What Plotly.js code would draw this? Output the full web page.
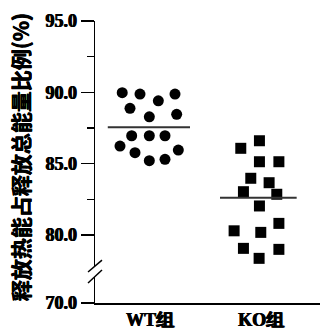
<!DOCTYPE html>
<html><head><meta charset="utf-8">
<script src="https://cdn.plot.ly/plotly-3.0.1.min.js"></script>
<style>html,body{margin:0;padding:0;background:#fff}</style>
</head><body>
<div id="chart" style="width:320px;height:329px"></div>
<script>
// categories and tick labels
var groups = ["WT组", "KO组"];
var yTickVals = [80, 85, 90, 95];
var yTickText = ["80.0", "85.0", "90.0", "95.0"];
var yLowTickVals = [70];
var yLowTickText = ["70.0"];
var yTitle = "释放热能占释放总能量比例(%)";

// WT group values (%) and horizontal jitter
var wtValues = [89.98, 89.88, 89.41, 89.88, 88.88, 88.29, 88.46, 86.96, 86.96, 86.96, 86.24, 85.77, 85.21, 85.31, 85.96];
var wtJitter = [-0.25, -0.09, 0.075, 0.225, -0.18, -0.006, 0.24, -0.165, -0.006, 0.135, -0.27, -0.135, -0.006, 0.135, 0.255];
// KO group values (%) and jitter
var koValues = [86.61, 86.08, 85.14, 85.14, 83.98, 83.67, 83.04, 82.86, 82.04, 80.82, 80.30, 80.19, 79.07, 79.00, 78.37];
var koJitter = [-0.015, -0.183, -0.015, 0.16, -0.093, 0.072, -0.159, 0.141, -0.015, 0.16, -0.243, -0.003, -0.159, 0.16, -0.018];
// group means
var means = [87.55, 82.62];
var meanLeft = [-0.38, -0.37];
var meanRight = [0.36, 0.32];

var bold = function(s){ return '<b>' + s + '</b>'; };
var wtX = wtJitter.map(function(d){ return 0 + d; });
var koX = koJitter.map(function(d){ return 1 + d; });

var traces = [
  {x: wtX, y: wtValues, type: 'scatter', mode: 'markers', xaxis: 'x', yaxis: 'y',
   marker: {symbol: 'circle', size: 11, color: '#000'}, hoverinfo: 'skip'},
  {x: koX, y: koValues, type: 'scatter', mode: 'markers', xaxis: 'x', yaxis: 'y',
   marker: {symbol: 'square', size: 11, color: '#000'}, hoverinfo: 'skip'}
];
means.forEach(function(m, i){
  traces.push({x: [i + meanLeft[i], i + meanRight[i]], y: [m, m], type: 'scatter', mode: 'lines',
    xaxis: 'x', yaxis: 'y', line: {color: '#333', width: 2}, hoverinfo: 'skip'});
});
traces.push({x: [0], y: [null], type: 'scatter', mode: 'markers', xaxis: 'x', yaxis: 'y2', hoverinfo: 'skip'});

var serif = 'Liberation Serif';
var heavy = '0.6px 0 0 #000, -0.3px 0 0 #000';
var tf = {family: serif, size: 18, color: '#000', weight: 'bold', shadow: heavy};
var layout = {
  width: 320, height: 329,
  margin: {l: 95, r: 0, t: 21, b: 26},
  paper_bgcolor: '#fff', plot_bgcolor: '#fff',
  showlegend: false,
  font: {family: serif, color: '#000'},
  xaxis: {
    anchor: 'y2', range: [-0.495, 1.53], tickvals: [0, 1], ticktext: groups.map(bold),
    showline: true, linecolor: '#000', linewidth: 1.5, ticks: '', showgrid: false, zeroline: false,
    tickfont: tf, fixedrange: true
  },
  yaxis: {
    domain: [0.131, 1], range: [77.83, 95], tickvals: yTickVals, ticktext: yTickText.map(bold),
    showline: true, linecolor: '#000', linewidth: 1.5, ticks: 'outside', ticklen: 13, tickwidth: 1.5, tickcolor: '#000',
    minor: {tickvals: [82.5, 87.5, 92.5], ticks: 'outside', ticklen: 7, tickwidth: 1.5, tickcolor: '#000'},
    showgrid: false, zeroline: false,
    tickfont: tf, fixedrange: true
  },
  yaxis2: {
    domain: [0, 0.092], range: [70, 71.82], tickvals: yLowTickVals, ticktext: yLowTickText.map(bold),
    showline: true, linecolor: '#000', linewidth: 1.5, ticks: 'outside', ticklen: 13, tickwidth: 1.5, tickcolor: '#000',
    showgrid: false, zeroline: false, anchor: 'x',
    tickfont: tf, fixedrange: true
  },
  shapes: [
    {type: 'line', xref: 'paper', yref: 'paper', x0: -0.031, y0: 0.110, x1: 0.031, y1: 0.152, line: {color: '#000', width: 1.5}},
    {type: 'line', xref: 'paper', yref: 'paper', x0: -0.031, y0: 0.071, x1: 0.031, y1: 0.117, line: {color: '#000', width: 1.5}}
  ],
  annotations: [
    {text: bold(yTitle), xref: 'paper', yref: 'paper', x: -0.33, y: 0.516, textangle: -90, showarrow: false,
     xanchor: 'center', yanchor: 'middle',
     font: {family: 'Noto Sans CJK SC', size: 21, color: '#000', weight: 'bold', shadow: heavy}}
  ]
};
Plotly.newPlot('chart', traces, layout, {displayModeBar: false, staticPlot: true});
</script>
</body></html>
